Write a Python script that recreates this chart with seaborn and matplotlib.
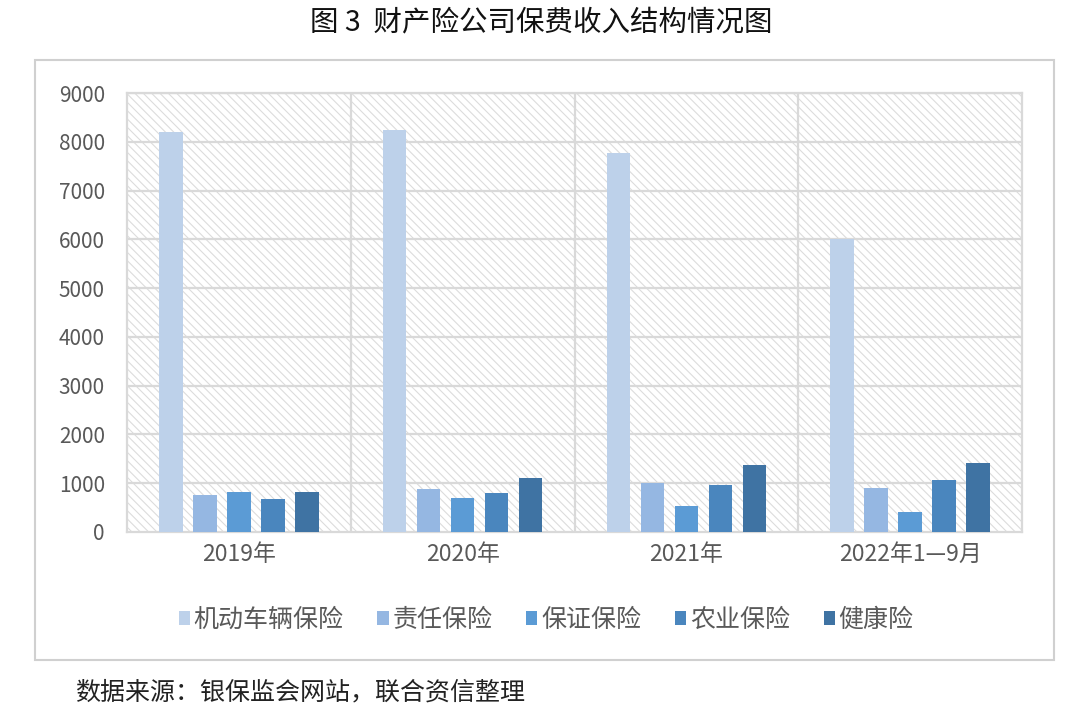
import matplotlib
matplotlib.use("Agg")
import matplotlib.pyplot as plt
import seaborn as sns
import pandas as pd
from matplotlib.patches import Rectangle, Patch

years = ["2019年", "2020年", "2021年", "2022年1—9月"]
series = ["机动车辆保险", "责任保险", "保证保险", "农业保险", "健康险"]
motor = [8200, 8250, 7780, 6000]
liability = [750, 880, 1010, 900]
guarantee = [830, 690, 530, 410]
agriculture = [670, 800, 970, 1070]
health = [830, 1100, 1380, 1410]
colors = ["#BDD1EA", "#95B7E2", "#5B9BD5", "#4A86BE", "#3F73A3"]

values = [motor, liability, guarantee, agriculture, health]
rows = []
for s, vals in zip(series, values):
    for y, v in zip(years, vals):
        rows.append({"year": y, "series": s, "value": v})
df = pd.DataFrame(rows)

sns.set_theme(style="white")
plt.rcParams['font.family'] = ['Noto Sans CJK SC', 'DejaVu Sans']
plt.rcParams['hatch.linewidth'] = 0.8
plt.rcParams['hatch.color'] = '#DCDCDC'

fig = plt.figure(figsize=(10.8, 7.15), dpi=100)
ax = fig.add_axes([127/1080, 1-532/715, (1022-127)/1080, (532-93)/715])

# hatched background
ax.add_patch(Rectangle((0, 0), 1, 1, transform=ax.transAxes, facecolor='white',
                       edgecolor='#DCDCDC', hatch='\\\\\\\\', linewidth=0, zorder=0))

sns.barplot(data=df, x="year", y="value", hue="series", order=years, hue_order=series,
            palette=colors, width=0.76, gap=0.31, ax=ax, legend=False, zorder=3,
            edgecolor='none', saturation=1)

ax.set_ylim(0, 9000)
ax.set_xlim(-0.5, 3.5)
ax.set_yticks(range(0, 9001, 1000))
ax.set_xlabel("")
ax.set_ylabel("")
grid_c = '#D9D9D9'
for yv in range(1000, 9001, 1000):
    ax.axhline(yv, color=grid_c, lw=1.6, zorder=1)
for xv in [0.5, 1.5, 2.5]:
    ax.axvline(xv, color=grid_c, lw=1.6, zorder=1)
for sp in ax.spines.values():
    sp.set_visible(True)
    sp.set_color(grid_c)
    sp.set_linewidth(1.6)
ax.tick_params(axis='both', length=0, colors='#595959')
ax.tick_params(axis='y', labelsize=15, pad=16)
ax.tick_params(axis='x', labelsize=16.5, pad=8)
for t in ax.get_yticklabels() + ax.get_xticklabels():
    t.set_color('#595959')

handles = [Patch(facecolor=c, edgecolor='none') for c in colors]
fig.legend(handles, series, loc='center', bbox_to_anchor=(546/1080, 1-620/715),
           ncol=5, frameon=False, fontsize=18, handlelength=0.45, handleheight=0.45,
           handletextpad=0.15, columnspacing=1.35, labelcolor='#595959')

# outer frame
fig.patches.append(Rectangle((35/1080, 1-660/715), 1019/1080, 600/715,
                             transform=fig.transFigure, fill=False,
                             edgecolor='#D0D0D0', linewidth=1.5))

fig.text(541/1080, 1-22/715, "图 3  财产险公司保费收入结构情况图", ha='center', va='center',
         fontsize=20.5, color='#111111')
fig.text(75/1080, 1-692/715, "数据来源：银保监会网站，联合资信整理", ha='left', va='center',
         fontsize=18, color='#222222')

fig.savefig("out.png", dpi=100)
